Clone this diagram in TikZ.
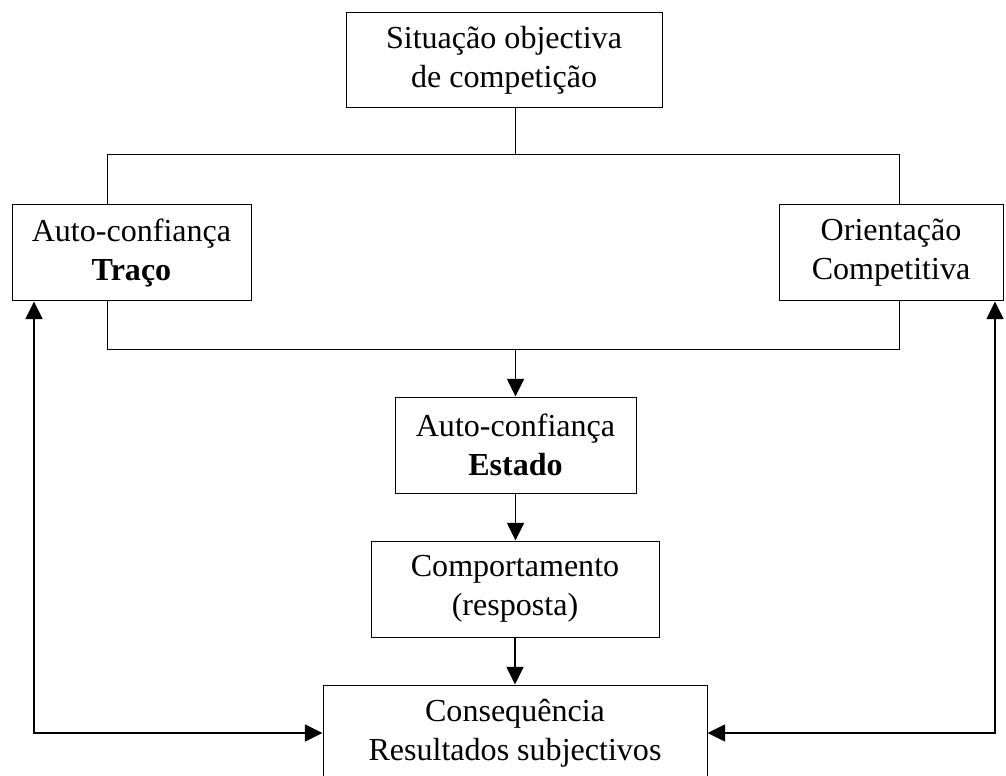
\documentclass[tikz,border=0pt]{standalone}
\usepackage{fontspec}
\setmainfont{Liberation Serif}
\usetikzlibrary{arrows.meta}
\tikzset{
  caixa/.style={draw, line width=0.7pt, align=center, inner sep=0pt,
    minimum height=2.4cm, font=\fontsize{22.8}{27.7}\selectfont},
  liga/.style={line width=0.7pt},
  seta/.style={line width=1.4pt, -{Triangle[length=0.44cm,width=0.42cm]}},
  seta2/.style={line width=1.4pt, {Triangle[length=0.44cm,width=0.42cm]}-{Triangle[length=0.44cm,width=0.42cm]}}
}
\begin{document}
\begin{tikzpicture}
\useasboundingbox (0,0) rectangle (25.15,19.375);

% Boxes
\node[caixa, minimum width=7.9cm, minimum height=2.375cm] (sit) at (12.600000,17.862500) {Situação objectiva\\de competição};%
\node[caixa, minimum width=5.975cm] (traco) at (3.287500,13.050000) {Auto-confiança\\\textbf{Traço}};%
\node[caixa, minimum width=5.6cm] (orient) at (22.275000,13.050000) {Orientação\\Competitiva};%
\node[caixa, minimum width=6.025cm] (estado) at (12.887500,8.250000) {Auto-confiança\\\textbf{Estado}};%
\node[caixa, minimum width=7.2cm] (comport) at (12.875000,4.650000) {Comportamento\\(resposta)};%
\node[caixa, minimum width=9.6cm] (conseq) at (12.875000,1.050000) {Consequência\\Resultados subjectivos};%

% Junction points
\coordinate (topo) at (12.875000,15.500000);
\coordinate (jl) at (2.675000,15.500000);
\coordinate (jr) at (22.475000,15.500000);
\coordinate (bl) at (2.675000,10.650000);
\coordinate (br) at (22.475000,10.650000);
\coordinate (ll) at (0.850000,1.050000);
\coordinate (rr) at (24.875000,1.050000);

% Situation to both traits
\draw[liga] (sit.south -| topo) -- (topo);%
\draw[liga] (traco.north -| jl) |- (jr) -- (jr |- orient.north);%

% Traits to state
\draw[liga] (traco.south -| bl) |- (br) -- (br |- orient.south);%
\draw[seta] (estado.north |- bl) -- (estado.north);%

% Down the middle
\draw[seta] (estado.south) -- (estado.south |- comport.north);%
\draw[seta] (comport.south) -- (comport.south |- conseq.north);%

% Feedback loops
\draw[seta2] (traco.south -| ll) |- (conseq.west);%
\draw[seta2] (orient.south -| rr) |- (conseq.east);%
\end{tikzpicture}
\end{document}
